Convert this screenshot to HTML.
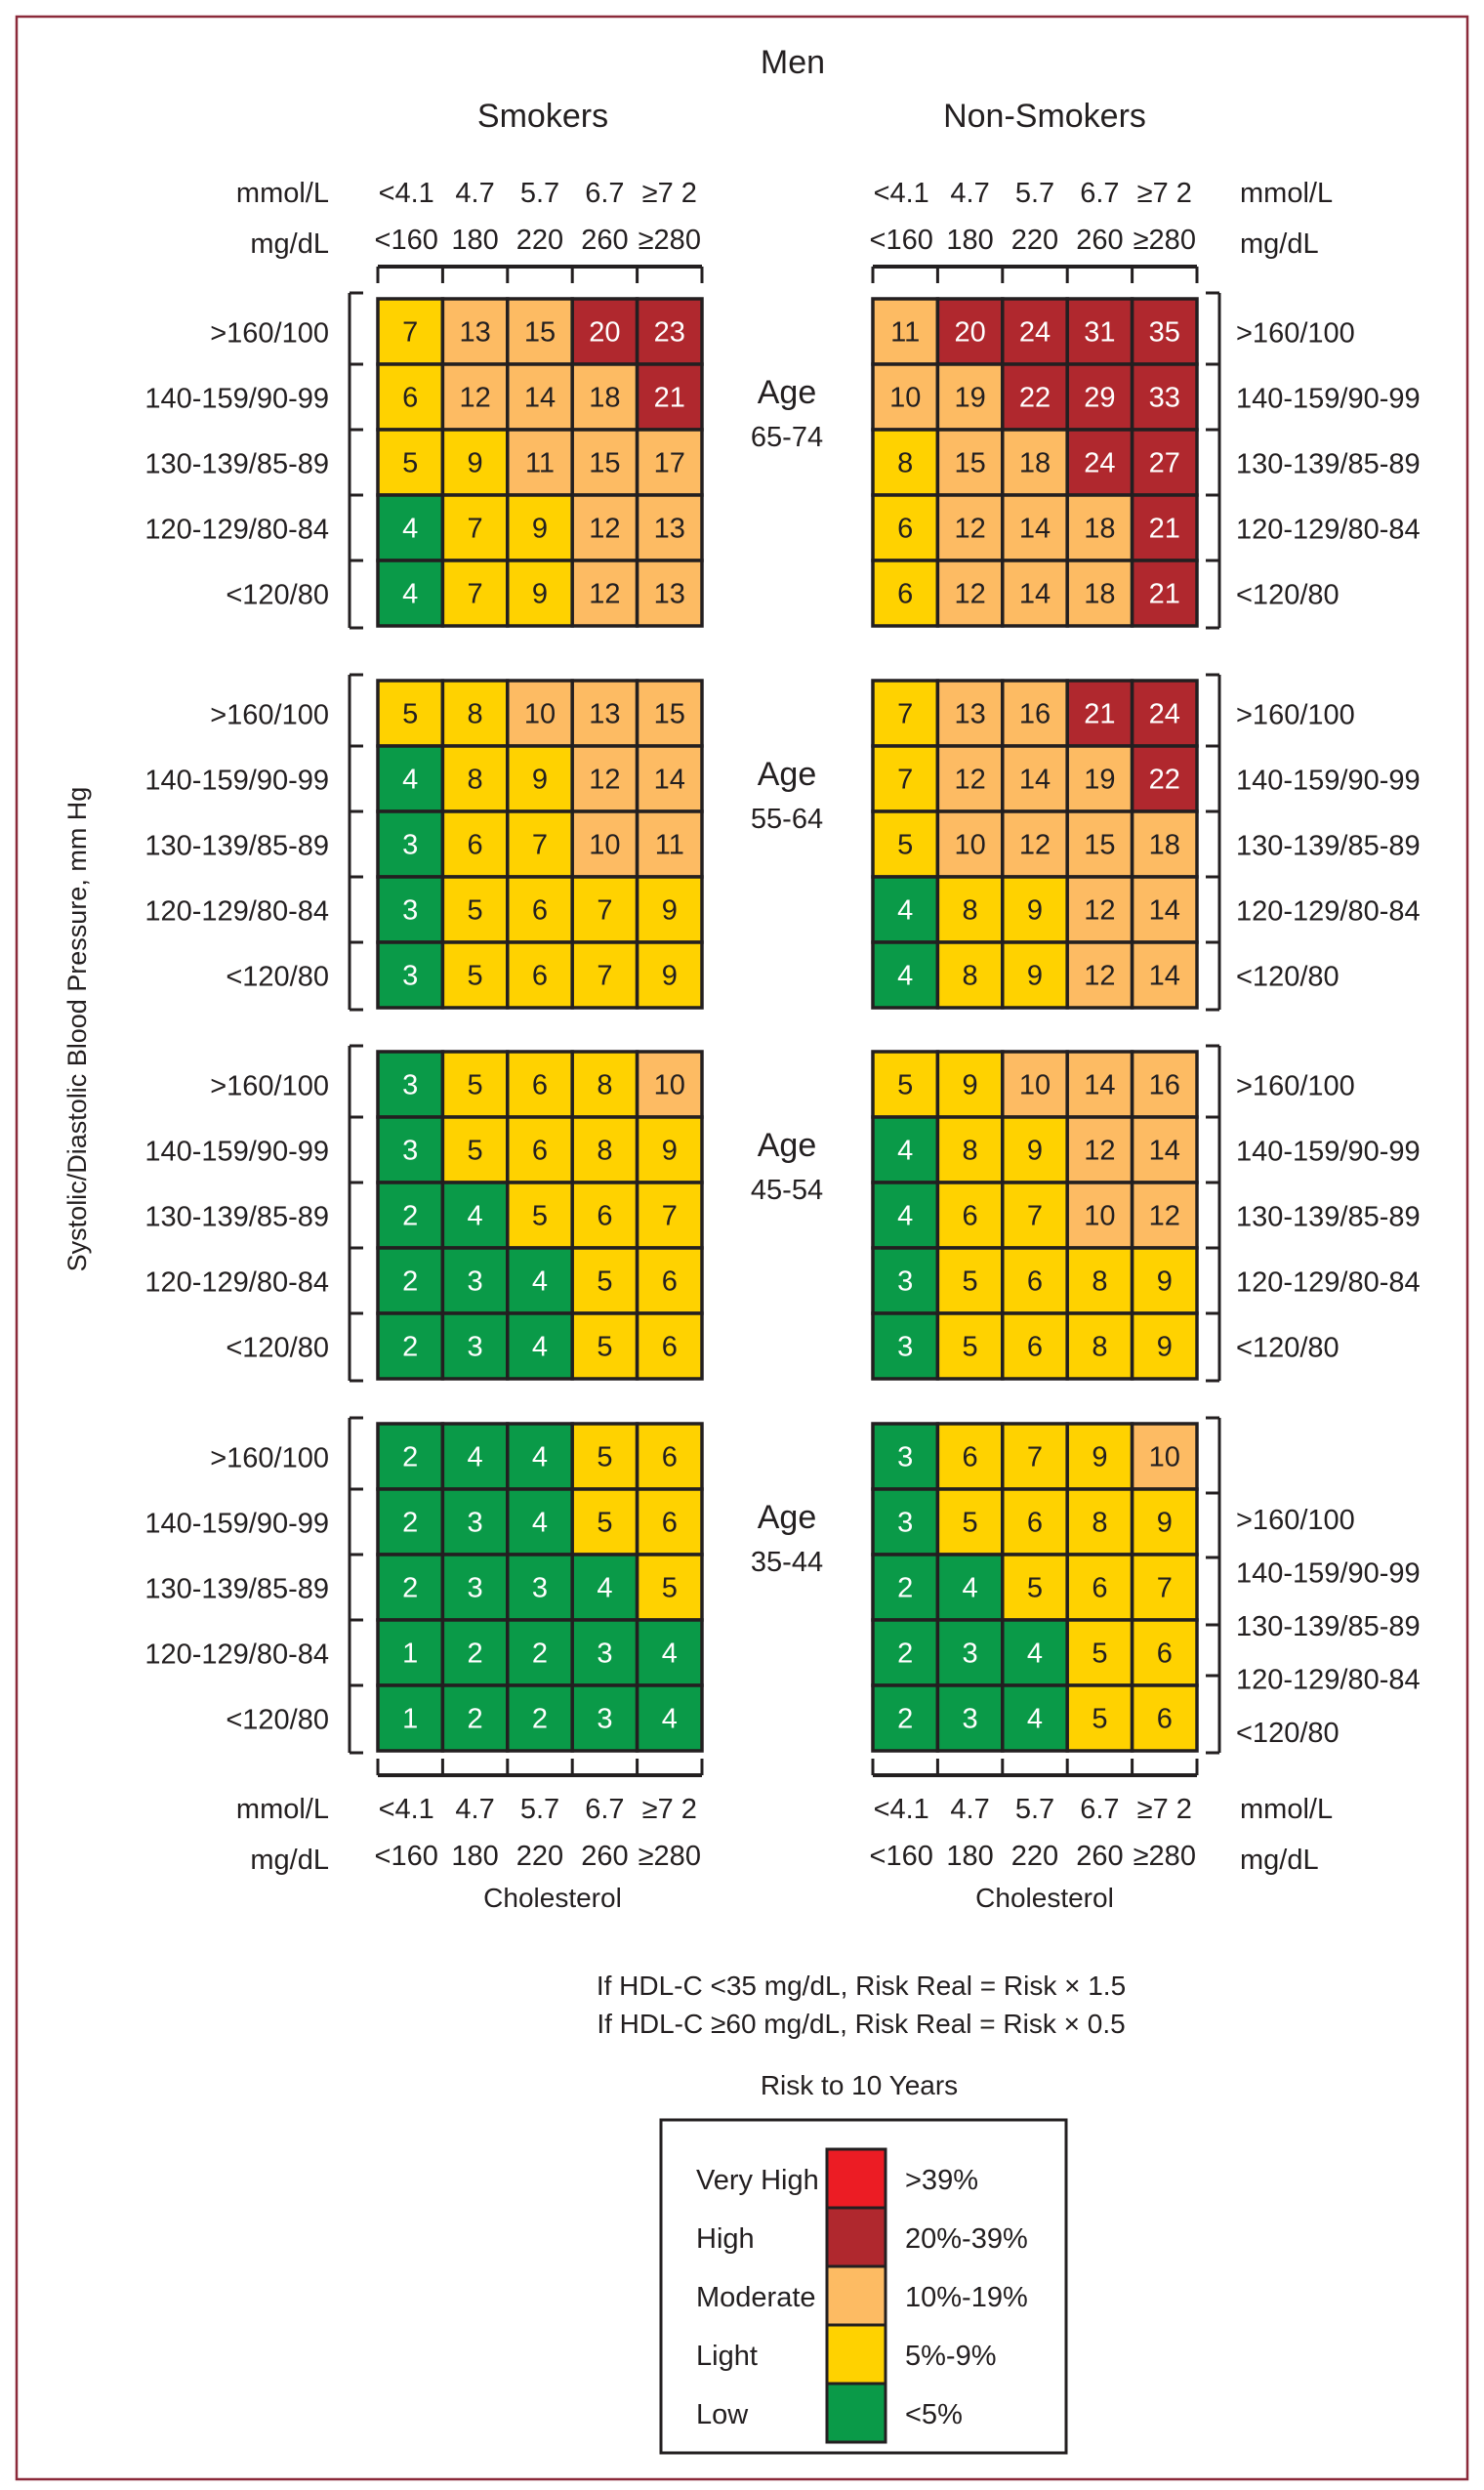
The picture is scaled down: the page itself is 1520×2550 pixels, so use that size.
<!DOCTYPE html>
<html><head><meta charset="utf-8"><style>
html,body{margin:0;padding:0;background:#fff}
svg{display:block}
text{font-family:"Liberation Sans Narrow","Liberation Sans",sans-serif;fill:#231f20}
</style></head><body>
<svg id="chart" width="1520" height="2550" viewBox="0 0 1520 2550" xmlns="http://www.w3.org/2000/svg">
<rect x="17" y="17" width="1486" height="2522" fill="none" stroke="#8b2a3a" stroke-width="2.5"/>
<text x="812" y="75" font-size="34" text-anchor="middle">Men</text>
<text x="556" y="130" font-size="34" text-anchor="middle">Smokers</text>
<text x="1070" y="130" font-size="34" text-anchor="middle">Non-Smokers</text>
<text transform="translate(88,1054) rotate(-90)" font-size="27" text-anchor="middle">Systolic/Diastolic Blood Pressure, mm Hg</text>
<g id="marks"></g>
<text x="882" y="2043" font-size="28" text-anchor="middle">If HDL-C &lt;35 mg/dL, Risk Real = Risk × 1.5</text>
<text x="882" y="2082" font-size="28" text-anchor="middle">If HDL-C ≥60 mg/dL, Risk Real = Risk × 0.5</text>
<text x="880" y="2145" font-size="28" text-anchor="middle">Risk to 10 Years</text>
<rect x="677" y="2171" width="415" height="341" fill="none" stroke="#231f20" stroke-width="3"/>
</svg>
<script>
const ageGroups = ["65-74","55-64","45-54","35-44"];
const bpLabels = [">160/100","140-159/90-99","130-139/85-89","120-129/80-84","<120/80"];
const mmolLabels = ["<4.1","4.7","5.7","6.7","≥7 2"];
const mgLabels = ["<160","180","220","260","≥280"];
const smokers = [
 [[7,13,15,20,23],[6,12,14,18,21],[5,9,11,15,17],[4,7,9,12,13],[4,7,9,12,13]],
 [[5,8,10,13,15],[4,8,9,12,14],[3,6,7,10,11],[3,5,6,7,9],[3,5,6,7,9]],
 [[3,5,6,8,10],[3,5,6,8,9],[2,4,5,6,7],[2,3,4,5,6],[2,3,4,5,6]],
 [[2,4,4,5,6],[2,3,4,5,6],[2,3,3,4,5],[1,2,2,3,4],[1,2,2,3,4]]
];
const nonSmokers = [
 [[11,20,24,31,35],[10,19,22,29,33],[8,15,18,24,27],[6,12,14,18,21],[6,12,14,18,21]],
 [[7,13,16,21,24],[7,12,14,19,22],[5,10,12,15,18],[4,8,9,12,14],[4,8,9,12,14]],
 [[5,9,10,14,16],[4,8,9,12,14],[4,6,7,10,12],[3,5,6,8,9],[3,5,6,8,9]],
 [[3,6,7,9,10],[3,5,6,8,9],[2,4,5,6,7],[2,3,4,5,6],[2,3,4,5,6]]
];
const legendLabels = ["Very High","High","Moderate","Light","Low"];
const legendRanges = [">39%","20%-39%","10%-19%","5%-9%","<5%"];
const legendColors = ["#ec1c24","#b0282e","#fdbb63","#ffd200","#0a9a48"];

const NS="http://www.w3.org/2000/svg";
const g=document.getElementById('marks');
const root=document.getElementById('chart');
function mk(tag,attrs,parent,txt){const e=document.createElementNS(NS,tag);for(const k in attrs)e.setAttribute(k,attrs[k]);if(txt!==undefined)e.textContent=txt;(parent||g).appendChild(e);return e;}
function colorFor(v){if(v>39)return legendColors[0];if(v>=20)return legendColors[1];if(v>=10)return legendColors[2];if(v>=5)return legendColors[3];return legendColors[4];}
const CW=66.4, RH=67, panelTops=[306,697,1077,1458], xLeft=387, xRight=894;
function colX(x0,i){return x0+CW*i;}
function rowY(p,j){return panelTops[p]+RH*j;}

function drawPanel(x0,data,p,side){
  for(let r=0;r<5;r++)for(let c=0;c<5;c++){
    const v=data[r][c];
    const rc=mk('rect',{x:colX(x0,c),y:rowY(p,r),width:CW,height:RH,fill:colorFor(v),stroke:'#231f20','stroke-width':3.5});
    
    
    const t=mk('text',{x:colX(x0,c)+CW/2,y:rowY(p,r)+RH/2+10,'font-size':29,'text-anchor':'middle',style:'fill:'+((v<5||v>=20)?'#fff':'#231f20')},g,String(v));
    
    
  }
  const shifted = (side==='right' && p===3);
  const bx = side==='left'? x0-29 : x0+CW*5+23;
  const dir = side==='left'? 14 : -14;
  const top=rowY(p,0)-6, bot=rowY(p,5)+2;
  const bl=mk('line',{x1:bx,y1:top,x2:bx,y2:bot,stroke:'#231f20','stroke-width':3});
  
  
  const stubs = shifted ? [top, rowY(p,1)+4, rowY(p,2)+3, rowY(p,3)+5, rowY(p,4)-10, bot] : [0,1,2,3,4,5].map(j=>j===0?top:(j===5?bot:rowY(p,j)));
  stubs.forEach(yy=>mk('line',{x1:bx,y1:yy,x2:bx+dir,y2:yy,stroke:'#231f20','stroke-width':3}));
  for(let j=0;j<5;j++){
    const lx = side==='left'? x0-50 : x0+CW*5+40;
    let ly = rowY(p,j)+RH/2+11;
    if(shifted) ly = rowY(p,0)+97+j*54.5+11;
    const lt=mk('text',{x:lx,y:ly,'font-size':29,'text-anchor':side==='left'?'end':'start'},g,bpLabels[j]);
    
    
  }
}
function drawAxis(x0,lineY,tickDir,side,labY1,labY2){
  const al=mk('line',{x1:x0,y1:lineY,x2:x0+CW*5,y2:lineY,stroke:'#231f20','stroke-width':4});
  
  
  for(let i=0;i<=5;i++)mk('line',{x1:colX(x0,i),y1:lineY,x2:colX(x0,i),y2:lineY+tickDir*17,stroke:'#231f20','stroke-width':3});
  for(let i=0;i<5;i++){
    const a=mk('text',{x:colX(x0,i)+CW/2+(i===0?-4:0),y:labY1,'font-size':29,'text-anchor':'middle'},g,mmolLabels[i]);
    
    
    const b=mk('text',{x:colX(x0,i)+CW/2+(i===0?-4:0),y:labY2,'font-size':29,'text-anchor':'middle'},g,mgLabels[i]);
    
    
  }
  const ux = side==='left'? x0-50 : x0+CW*5+44;
  const anc = side==='left'?'end':'start';
  const u1=mk('text',{x:ux,y:labY1,'font-size':29,'text-anchor':anc},g,'mmol/L');
  
  
  const u2=mk('text',{x:ux,y:labY2+4,'font-size':29,'text-anchor':anc},g,'mg/dL');
  
  
}
for(let p=0;p<4;p++){
  drawPanel(xLeft,smokers[p],p,'left');
  drawPanel(xRight,nonSmokers[p],p,'right');
  const a1=mk('text',{x:806,y:rowY(p,0)+RH*1.6,'font-size':34,'text-anchor':'middle'},g,'Age');
  
  
  const a2=mk('text',{x:806,y:rowY(p,0)+RH*2.25,'font-size':29,'text-anchor':'middle'},g,ageGroups[p]);
  
  
}
drawAxis(xLeft,273,1,'left',207,255);
drawAxis(xRight,273,1,'right',207,255);
drawAxis(xLeft,1818,-1,'left',1862,1910);
drawAxis(xRight,1818,-1,'right',1862,1910);
const c1=mk('text',{x:566,y:1953,'font-size':28,'text-anchor':'middle'},g,'Cholesterol');


const c2=mk('text',{x:1070,y:1953,'font-size':28,'text-anchor':'middle'},g,'Cholesterol');


for(let i=0;i<5;i++){
  const y=2201+60*i;
  const sw=mk('rect',{x:847,y:y,width:60,height:60,fill:legendColors[i],stroke:'#231f20','stroke-width':3},root);
  
  
  const l=mk('text',{x:713,y:y+41,'font-size':29},root,legendLabels[i]);
  
  
  const r=mk('text',{x:927,y:y+41,'font-size':29},root,legendRanges[i]);
  
  
}
</script>
</body></html>
